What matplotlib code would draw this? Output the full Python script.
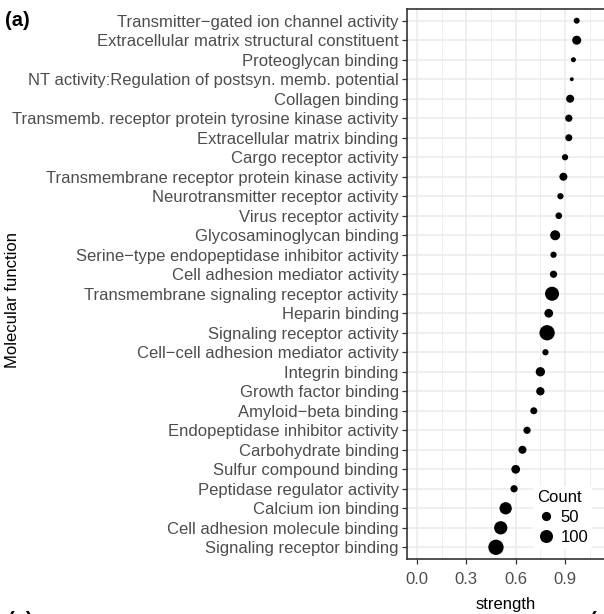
import matplotlib
matplotlib.use("Agg")
import matplotlib.pyplot as plt
from matplotlib.lines import Line2D

# GO molecular function enrichment, top term first
terms = [
    "Transmitter\u2212gated ion channel activity",
    "Extracellular matrix structural constituent",
    "Proteoglycan binding",
    "NT activity:Regulation of postsyn. memb. potential",
    "Collagen binding",
    "Transmemb. receptor protein tyrosine kinase activity",
    "Extracellular matrix binding",
    "Cargo receptor activity",
    "Transmembrane receptor protein kinase activity",
    "Neurotransmitter receptor activity",
    "Virus receptor activity",
    "Glycosaminoglycan binding",
    "Serine\u2212type endopeptidase inhibitor activity",
    "Cell adhesion mediator activity",
    "Transmembrane signaling receptor activity",
    "Heparin binding",
    "Signaling receptor activity",
    "Cell\u2212cell adhesion mediator activity",
    "Integrin binding",
    "Growth factor binding",
    "Amyloid\u2212beta binding",
    "Endopeptidase inhibitor activity",
    "Carbohydrate binding",
    "Sulfur compound binding",
    "Peptidase regulator activity",
    "Calcium ion binding",
    "Cell adhesion molecule binding",
    "Signaling receptor binding",
]
strength = [0.971, 0.971, 0.951, 0.941, 0.931, 0.923, 0.923, 0.900, 0.890, 0.872,
            0.862, 0.840, 0.830, 0.830, 0.821, 0.801, 0.791, 0.781, 0.750, 0.750,
            0.710, 0.669, 0.641, 0.600, 0.590, 0.539, 0.509, 0.480]
count = [21, 48, 15, 9, 38, 31, 29, 23, 38, 23,
         26, 59, 23, 31, 116, 45, 138, 23, 51, 41,
         29, 31, 38, 45, 31, 89, 104, 138]

legend_counts = [50, 100]
xticks = [0.0, 0.3, 0.6, 0.9]
xminor = [0.15, 0.45, 0.75, 1.05]

plt.rcParams['font.family'] = ['Liberation Sans', 'DejaVu Sans']
FS = 12

def size_of(c):
    return 0.88 * c

fig = plt.figure(figsize=(6.04, 6.14), dpi=100)
ax = fig.add_axes([407 / 604, 55 / 614, 197 / 604, 550 / 614])

n = len(terms)
ypos = [n - 1 - i for i in range(n)]
ax.scatter(strength, ypos, s=[size_of(c) for c in count], color="black",
           linewidths=0, zorder=3)

ax.set_xlim(-0.061, 1.137)
ax.set_ylim(-0.6, n - 1 + 0.6)
ax.set_yticks(ypos)
ax.set_yticklabels(terms)
ax.set_xticks(xticks)
ax.set_xticklabels(["0.0", "0.3", "0.6", "0.9"])
ax.set_xticks(xminor, minor=True)
ax.tick_params(axis="both", which="major", colors="#333333", length=3.5,
               width=0.9, labelsize=FS, labelcolor="#4D4D4D", pad=2.5)
ax.tick_params(axis="x", which="major", pad=6)
ax.tick_params(axis="x", which="minor", length=0)

ax.grid(True, which="major", color="#EBEBEB", linewidth=1.1, zorder=0)
ax.grid(True, which="minor", axis="x", color="#EBEBEB", linewidth=0.6, zorder=0)
ax.set_axisbelow(True)

for side in ["left", "top", "bottom"]:
    ax.spines[side].set_color("#333333")
    ax.spines[side].set_linewidth(1.2)
ax.spines["right"].set_visible(False)

ax.set_xlabel("strength", fontsize=FS, labelpad=7)
ax.set_ylabel("Molecular function", fontsize=FS)
ax.yaxis.set_label_coords(-1.965, 0.47)

handles = [Line2D([], [], marker="o", linestyle="", color="black",
                  markeredgewidth=0, markersize=size_of(c) ** 0.5)
           for c in legend_counts]
leg = ax.legend(handles, [str(c) for c in legend_counts], title="Count",
                loc="upper left", bbox_to_anchor=(533 / 604, 1 - 486 / 614),
                bbox_transform=fig.transFigure, frameon=True, fontsize=FS,
                title_fontsize=FS, handletextpad=0.3, labelspacing=0.3,
                borderpad=0.25, handlelength=1.1, borderaxespad=0)
leg.get_frame().set_facecolor("white")
leg.get_frame().set_edgecolor("none")
leg.get_frame().set_alpha(1)
leg._legend_box.align = "left"

fig.text(5 / 604, 1 - 20 / 614, "(a)", fontsize=14.5, fontweight="bold",
         va="center", ha="left")
fig.text(8 / 604, -6 / 614, "(c)", fontsize=14.5, fontweight="bold",
         va="center", ha="left")
fig.text(590 / 604, -6 / 614, "(", fontsize=14.5, fontweight="bold",
         va="center", ha="left")

fig.savefig("out.png", dpi=100)
